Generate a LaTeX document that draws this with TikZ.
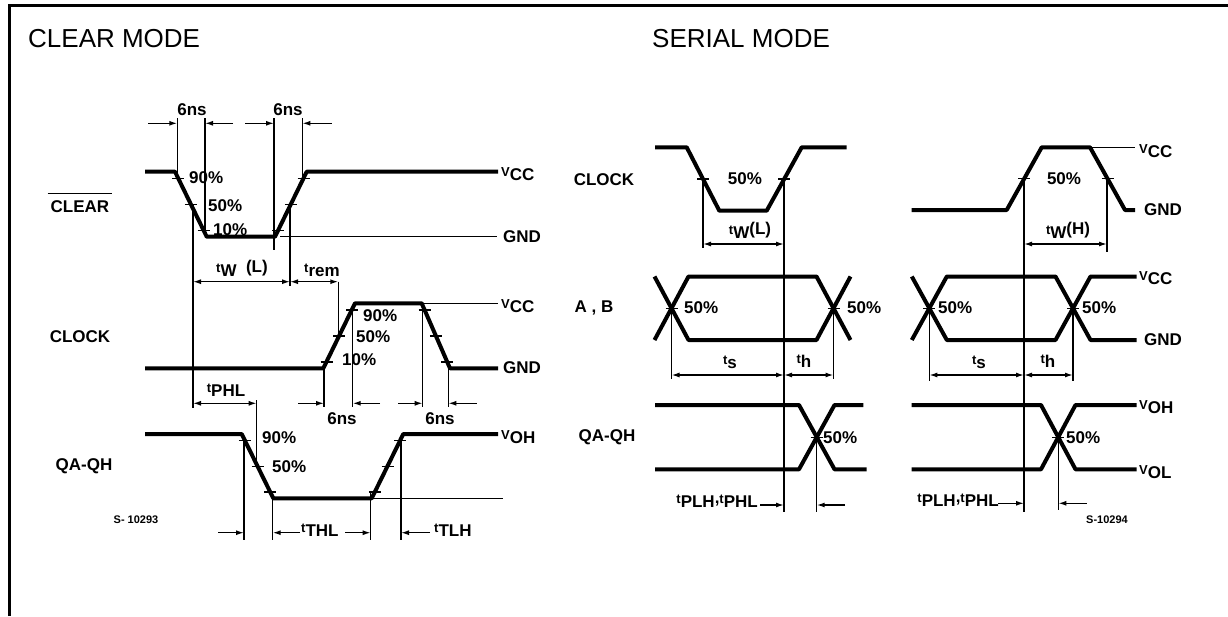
\documentclass[tikz,border=0pt]{standalone}
\usepackage{fontspec}
\setmainfont{Liberation Sans}
\usetikzlibrary{arrows.meta}

% 小写符号 + 下沉下标
\newcommand{\tsym}[2]{{\fontsize{13}{13}\selectfont #1}\raisebox{-4pt}{#2}}

\begin{document}
\begin{tikzpicture}[x=1pt,y=-1pt,
    % 波形样式
    wave/.style={
        line width=4pt,      % 粗线
        line join=round      % 圆角连接
    },
    % 细线样式
    guide/.style={
        line width=1.4pt     % 细线
    },
    % 刻度样式
    tickmark/.style={
        line width=1.4pt
    },
    % 单向尺寸箭头
    dimto/.style={
        guide,
        -{Latex[length=8pt,width=5pt]}
    },
    % 双向尺寸箭头
    dimboth/.style={
        guide,
        {Latex[length=8pt,width=5pt]}-{Latex[length=8pt,width=5pt]}
    },
    % 标注文字
    lbl/.style={
        font={\fontsize{17}{17}\selectfont\bfseries},
        inner sep=0pt
    },
    % 标题文字
    title/.style={
        font={\fontsize{26}{26}\selectfont},
        inner sep=0pt,
        anchor=base west
    },
    % 图号文字
    fignum/.style={
        font={\fontsize{11}{11}\selectfont\bfseries},
        inner sep=0pt
    }
]
\useasboundingbox (0,0) rectangle (1228,616);

% 外框 (只有左边和上边)
\draw[line width=3pt] (9,616) -- (9,5) -- (1228,5);

% 标题
\node[title] (clrtitle) at (28,47) {CLEAR MODE};
\node[title] (sertitle) at (652,47) {SERIAL MODE};

%%%%%%%% CLEAR MODE %%%%%%%%
% 信号名
\node[lbl] (lclear) at (80,207) {CLEAR};
\draw[guide] ([xshift=-3pt,yshift=7pt]lclear.north west) -- ([xshift=3pt,yshift=7pt]lclear.north east);
\node[lbl] (lclock) at (80,337) {CLOCK};
\node[lbl] (lqaqh) at (84,466) {QA-QH};

% CLEAR 波形
\draw[wave] (145,171.7) -- (175,171.7) -- (206.7,236.7) -- (275,236.7) -- (306.7,171.7) -- (498,171.7);
\draw[guide] (280,236.7) -- (497,236.7);
\node[lbl, anchor=west] (cvcc) at (501,174) {\tsym{V}{CC}};
\node[lbl, anchor=west] (cgnd) at (503,237) {GND};
\foreach \px/\py in {178.2/178.2, 190.8/204.2, 203.5/230.2, 278.2/230.2, 290.8/204.2, 303.5/178.2}
    \draw[tickmark] ({\px-6},\py) -- ({\px+6},\py);
\node[lbl, anchor=west] (c90) at (189,178) {90\%};
\node[lbl, anchor=west] (c50) at (208,206) {50\%};
\node[lbl, anchor=west] (c10) at (213,230) {10\%};

% 6ns 尺寸 (上方)
\draw[guide] (177.3,118) -- (177.3,178);
\draw[guide] (205,118) -- (205,231);
\draw[guide] (274,118) -- (274,250);
\draw[guide] (302.3,118) -- (302.3,178);
\draw[dimto] (148,123.3) -- (177.3,123.3);
\draw[dimto] (233,123.3) -- (205,123.3);
\draw[dimto] (245,123.3) -- (274,123.3);
\draw[dimto] (331.7,123.3) -- (302.3,123.3);
\node[lbl] (cns1) at (192,110) {6ns};
\node[lbl] (cns2) at (288,110) {6ns};

% tw(L) 与 trem
\draw[guide] (193,204) -- (193,408);
\draw[guide] (290,204) -- (290,286);
\draw[dimboth] (193,281.7) -- (290,281.7);
\draw[dimboth] (290,281.7) -- (338.3,281.7);
\draw[guide] (338.3,281.7) -- (338.3,338);
\node[lbl] (ctwl) at (242,268) {\tsym{t}{W}\ \ (L)};
\node[lbl] (ctrem) at (322,270) {\tsym{t}{rem}};

% CLOCK 波形
\draw[wave] (145,368.3) -- (323.3,368.3) -- (355,303.3) -- (421.7,303.3) -- (450,368.3) -- (498,368.3);
\draw[guide] (421.7,303.3) -- (498,303.3);
\node[lbl, anchor=west] (kvcc) at (501,306) {\tsym{V}{CC}};
\node[lbl, anchor=west] (kgnd) at (503,368) {GND};
\foreach \px/\py in {352/309.8, 339.2/335.8, 326.5/361.8, 424.5/309.8, 435.9/335.8, 447.2/361.8}
    \draw[tickmark] ({\px-6},\py) -- ({\px+6},\py);
\node[lbl, anchor=west] (k90) at (363,316) {90\%};
\node[lbl, anchor=west] (k50) at (356,337) {50\%};
\node[lbl, anchor=west] (k10) at (342,360) {10\%};

% 6ns 尺寸 (下方)
\draw[guide] (324,368) -- (324,407);
\draw[guide] (352.7,310) -- (352.7,407);
\draw[guide] (422.7,310) -- (422.7,407);
\draw[guide] (448.3,362) -- (448.3,407);
\draw[dimto] (298,403.3) -- (324,403.3);
\draw[dimto] (380,403.3) -- (352.7,403.3);
\draw[dimto] (398,403.3) -- (422.7,403.3);
\draw[dimto] (476.7,403.3) -- (448.3,403.3);
\node[lbl] (kns1) at (342,419) {6ns};
\node[lbl] (kns2) at (440,419) {6ns};

% tPHL
\draw[dimboth] (193,403.3) -- (256.7,403.3);
\draw[guide] (256.7,400) -- (256.7,466);
\node[lbl] (ctphl) at (226,390) {\tsym{t}{PHL}};

% QA-QH 波形
\draw[wave] (145,434) -- (241.7,434) -- (273.3,498.3) -- (371.7,498.3) -- (403.3,434) -- (498,434);
\draw[guide] (371.7,498.3) -- (503,498.3);
\node[lbl, anchor=west] (qvoh) at (501,437) {\tsym{V}{OH}};
\foreach \px/\py in {244.9/440.4, 257.5/466.2, 270.1/491.9, 374.9/491.9, 387.5/466.2, 400.1/440.4}
    \draw[tickmark] ({\px-6},\py) -- ({\px+6},\py);
\node[lbl, anchor=west] (q90) at (262,438) {90\%};
\node[lbl, anchor=west] (q50) at (272,467) {50\%};

% tTHL / tTLH
\draw[guide] (244,440) -- (244,540);
\draw[guide] (272.7,492) -- (272.7,540);
\draw[guide] (370.7,492) -- (370.7,540);
\draw[guide] (401,440) -- (401,540);
\draw[dimto] (218,532.7) -- (244,532.7);
\draw[dimto] (300,532.7) -- (272.7,532.7);
\draw[dimto] (345,532.7) -- (370.7,532.7);
\draw[dimto] (430,532.7) -- (401,532.7);
\node[lbl, anchor=west] (cthl) at (301,530) {\tsym{t}{THL}};
\node[lbl, anchor=west] (ctlh) at (434,530) {\tsym{t}{TLH}};

\node[fignum] (fig1) at (136,520) {S- 10293};

%%%%%%%% SERIAL MODE %%%%%%%%
% 信号名
\node[lbl] (sclock) at (604,180) {CLOCK};
\node[lbl] (sab) at (594,308) {A , B};
\node[lbl] (sqaqh) at (607,437) {QA-QH};

% 主参考竖线
\draw[guide] (784,179) -- (784,512);
\draw[guide] (1024,179) -- (1024,512);

% CLOCK 1
\draw[wave] (655,147.3) -- (686.7,147.3) -- (719.3,210.7) -- (766.7,210.7) -- (801.7,147.3) -- (846.7,147.3);
\foreach \px/\py in {703/179, 784.2/179}
    \draw[tickmark] ({\px-6},\py) -- ({\px+6},\py);
\node[lbl] (s50a) at (745,179) {50\%};
\draw[guide] (703,179) -- (703,248);
\draw[dimboth] (703,244) -- (784,244);
\node[lbl] (stwl) at (750,230) {\tsym{t}{W}(L)};

% CLOCK 2
\draw[wave] (911.7,210) -- (1006.7,210) -- (1041.7,147.3) -- (1090,147.3) -- (1125,210) -- (1135,210);
\draw[guide] (1090,147.3) -- (1135,147.3);
\foreach \px/\py in {1024.2/178.7, 1107.5/178.7}
    \draw[tickmark] ({\px-6},\py) -- ({\px+6},\py);
\node[lbl] (s50b) at (1064,179) {50\%};
\draw[guide] (1107,179) -- (1107,252);
\draw[dimboth] (1024,244) -- (1107,244);
\node[lbl] (stwh) at (1068,230) {\tsym{t}{W}(H)};
\node[lbl, anchor=west] (svcc1) at (1139,151) {\tsym{V}{CC}};
\node[lbl, anchor=west] (sgnd1) at (1144,210) {GND};

% A,B 1
\draw[wave] (654.5,276.5) -- (688.5,340) -- (816.5,340) -- (850.5,276.5);
\draw[wave] (654.5,340) -- (688.5,276.5) -- (816.5,276.5) -- (850.5,340);
\foreach \px/\py in {671.5/308.25, 833.5/308.25}
    \draw[tickmark] ({\px-6},\py) -- ({\px+6},\py);
\node[lbl, anchor=west] (s50c) at (684,308) {50\%};
\node[lbl, anchor=west] (s50d) at (847,308) {50\%};
\draw[guide] (671.5,308) -- (671.5,379);
\draw[guide] (833.5,308) -- (833.5,379);
\draw[dimboth] (671.5,375) -- (784,375);
\draw[dimboth] (784,375) -- (833.5,375);
\node[lbl] (sts1) at (730,362) {\tsym{t}{s}};
\node[lbl] (sth1) at (804,361) {\tsym{t}{h}};

% A,B 2
\draw[wave] (911.8,276.5) -- (946.8,340) -- (1055.5,340) -- (1090.5,276.5) -- (1136.7,276.5);
\draw[wave] (911.8,340) -- (946.8,276.5) -- (1055.5,276.5) -- (1090.5,340) -- (1136.7,340);
\foreach \px/\py in {929.3/308.25, 1073/308.25}
    \draw[tickmark] ({\px-6},\py) -- ({\px+6},\py);
\node[lbl, anchor=west] (s50e) at (938,308) {50\%};
\node[lbl, anchor=west] (s50f) at (1082,308) {50\%};
\draw[guide] (929.3,308) -- (929.3,381);
\draw[guide] (1073,308) -- (1073,381);
\draw[dimboth] (929.3,375) -- (1024,375);
\draw[dimboth] (1024,375) -- (1073,375);
\node[lbl] (sts2) at (979,362) {\tsym{t}{s}};
\node[lbl] (sth2) at (1048,361) {\tsym{t}{h}};
\node[lbl, anchor=west] (svcc2) at (1139,278) {\tsym{V}{CC}};
\node[lbl, anchor=west] (sgnd2) at (1144,340) {GND};

% QA-QH 1
\draw[wave] (655,405) -- (799,405) -- (834.5,469.3) -- (866.7,469.3);
\draw[wave] (655,469.3) -- (799,469.3) -- (834.5,405) -- (863.3,405);
\draw[tickmark] (810.7,437.2) -- (822.7,437.2);
\node[lbl, anchor=west] (s50g) at (823,438) {50\%};
\draw[guide] (816.7,437) -- (816.7,512);
\draw[dimto] (760,505) -- (784,505);
\draw[dimto] (845,505) -- (816.7,505);
\node[lbl, anchor=east] (stp1) at (758,501) {\tsym{t}{PLH},\tsym{t}{PHL}};

% QA-QH 2
\draw[wave] (911.7,405) -- (1041,405) -- (1075.5,469.3) -- (1136.7,469.3);
\draw[wave] (911.7,469.3) -- (1041,469.3) -- (1075.5,405) -- (1136.7,405);
\draw[tickmark] (1052.3,437.2) -- (1064.3,437.2);
\node[lbl, anchor=west] (s50h) at (1066,438) {50\%};
\draw[guide] (1058.3,437) -- (1058.3,510);
\draw[dimto] (998.3,503.3) -- (1024,503.3);
\draw[dimto] (1086.7,503.3) -- (1058.3,503.3);
\node[lbl, anchor=east] (stp2) at (999,500) {\tsym{t}{PLH},\tsym{t}{PHL}};
\node[lbl, anchor=west] (svoh) at (1139,407) {\tsym{V}{OH}};
\node[lbl, anchor=west] (svol) at (1139,472) {\tsym{V}{OL}};

\node[fignum] (fig2) at (1107,520) {S-10294};

\end{tikzpicture}
\end{document}
